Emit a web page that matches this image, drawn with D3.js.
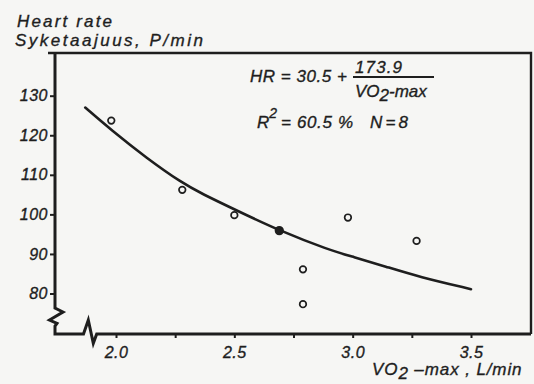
<!DOCTYPE html>
<html>
<head>
<meta charset="utf-8">
<script src="https://cdn.jsdelivr.net/npm/d3@7"></script>
<style>
  html, body { margin: 0; padding: 0; background: #f6f6f4; }
  svg { display: block; }
  text { font-family: "Liberation Sans", Arial, sans-serif; font-style: italic; fill: #1e1e1e;
         stroke: #1e1e1e; stroke-width: 0.35px; }
</style>
</head>
<body>
<div id="chart"></div>
<script>
// measured VO2-max (L/min) and heart rate (P/min)
var vo2 = [1.98, 2.28, 2.50, 2.69, 2.98, 3.27, 2.79, 2.79];
var hr = [123.7, 106.2, 99.8, 95.9, 99.2, 93.3, 86.1, 77.3];
var filled = [false, false, false, true, false, false, false, false];

// fitted curve as drawn in the figure
var curveX = [1.87, 1.98, 2.13, 2.28, 2.36, 2.52, 2.69, 2.90, 3.00, 3.14, 3.28, 3.50];
var curveY = [127.0, 121.3, 114.2, 107.9, 105.3, 100.7, 95.9, 91.0, 89.3, 86.8, 84.2, 81.1];

var xTicks = [2.0, 2.25, 2.5, 2.75, 3.0, 3.25, 3.5];
var yTicks = [80, 90, 100, 110, 120, 130];

var W = 534, H = 384;
var ink = "#1e1e1e";

var svg = d3.select("#chart").append("svg")
    .attr("width", W)
    .attr("height", H);

var x = d3.scaleLinear().domain([2.0, 3.5]).range([116, 471]);
var y = d3.scaleLinear().domain([80, 130]).range([293.5, 95.7]);

var axL = 55, axT = 53, axR = 531, axB = 334;

// frame: top and right
svg.append("path")
    .attr("d", "M48," + axT + "H" + axR + "V" + axB)
    .attr("fill", "none")
    .attr("stroke", ink)
    .attr("stroke-width", 2.4);

// axes with break marks
svg.append("path")
    .attr("d", "M" + axL + "," + axT + "V308L63,312L49.5,320L57,323.3L" + axL + ",326V" + axB +
        "H83.5L88.3,320L93.3,343.3L96.7," + axB + "H" + axR)
    .attr("fill", "none")
    .attr("stroke", ink)
    .attr("stroke-width", 3)
    .attr("stroke-linejoin", "miter");

// y axis ticks
var gy = svg.append("g")
    .attr("transform", "translate(" + axL + ",0)")
    .call(d3.axisLeft(y).tickValues(yTicks).tickSize(5).tickPadding(2));
gy.select(".domain").remove();
gy.selectAll("line").attr("stroke", ink).attr("stroke-width", 2);
gy.selectAll("text")
    .style("font-size", "16px")
    .attr("letter-spacing", "0.5px")
    .attr("fill", ink);

// x axis ticks
var gx = svg.append("g")
    .attr("transform", "translate(0," + axB + ")")
    .call(d3.axisBottom(x).tickValues(xTicks).tickSize(4).tickPadding(9)
        .tickFormat(function(d) { return (d * 2) % 1 === 0 ? d3.format(".1f")(d) : ""; }));
gx.select(".domain").remove();
gx.selectAll("line").attr("stroke", ink).attr("stroke-width", 2);
gx.selectAll("text")
    .style("font-size", "16px")
    .attr("letter-spacing", "0.5px")
    .attr("fill", ink);

// curve
var line = d3.line()
    .x(function(d, i) { return x(curveX[i]); })
    .y(function(d) { return y(d); })
    .curve(d3.curveBasis);

svg.append("path")
    .datum(curveY)
    .attr("d", line)
    .attr("fill", "none")
    .attr("stroke", ink)
    .attr("stroke-width", 2.6)
    .attr("stroke-linecap", "round");

// points
svg.selectAll(".pt")
    .data(hr)
    .enter()
    .append("circle")
    .attr("class", "pt")
    .attr("cx", function(d, i) { return x(vo2[i]); })
    .attr("cy", function(d) { return y(d); })
    .attr("r", function(d, i) { return filled[i] ? 3.8 : 3.3; })
    .attr("fill", function(d, i) { return filled[i] ? ink : "#f6f6f4"; })
    .attr("stroke", ink)
    .attr("stroke-width", 1.7);

// y title
svg.append("text").attr("x", 17).attr("y", 27)
    .style("font-size", "17px")
    .attr("textLength", 95).attr("lengthAdjust", "spacing")
    .text("Heart rate");
svg.append("text").attr("x", 15).attr("y", 46)
    .style("font-size", "17px")
    .attr("textLength", 188).attr("lengthAdjust", "spacing")
    .text("Syketaajuus, P/min");

// formula
svg.append("text").attr("x", 250).attr("y", 82)
    .style("font-size", "17px")
    .attr("textLength", 97).attr("lengthAdjust", "spacing")
    .text("HR = 30.5 +");
svg.append("text").attr("x", 355).attr("y", 73)
    .style("font-size", "17px")
    .attr("textLength", 47).attr("lengthAdjust", "spacing")
    .text("173.9");
svg.append("line")
    .attr("x1", 353).attr("x2", 434).attr("y1", 77).attr("y2", 77)
    .attr("stroke", ink).attr("stroke-width", 1.8);
var den = svg.append("text").attr("x", 355).attr("y", 97)
    .style("font-size", "17px");
den.append("tspan").text("VO");
den.append("tspan").attr("dy", 4).text("2");
den.append("tspan").attr("dy", -4).text("-max");

var r2 = svg.append("text").attr("x", 257).attr("y", 128)
    .style("font-size", "17px");
r2.append("tspan").text("R");
r2.append("tspan").attr("dy", -10).style("font-size", "14px").text("2");
svg.append("text").attr("x", 281).attr("y", 128)
    .style("font-size", "17px")
    .attr("textLength", 72).attr("lengthAdjust", "spacing")
    .text("= 60.5 %");
svg.append("text").attr("x", 370).attr("y", 128)
    .style("font-size", "17px")
    .attr("textLength", 38).attr("lengthAdjust", "spacing")
    .text("N = 8");

// x title
var xt = svg.append("text").attr("x", 372).attr("y", 375)
    .style("font-size", "17px")
    .attr("letter-spacing", "0.9px");
xt.append("tspan").text("VO");
xt.append("tspan").attr("dy", 4).text("2");
xt.append("tspan").attr("dy", -4).text(" –max , L/min");
</script>
</body>
</html>
